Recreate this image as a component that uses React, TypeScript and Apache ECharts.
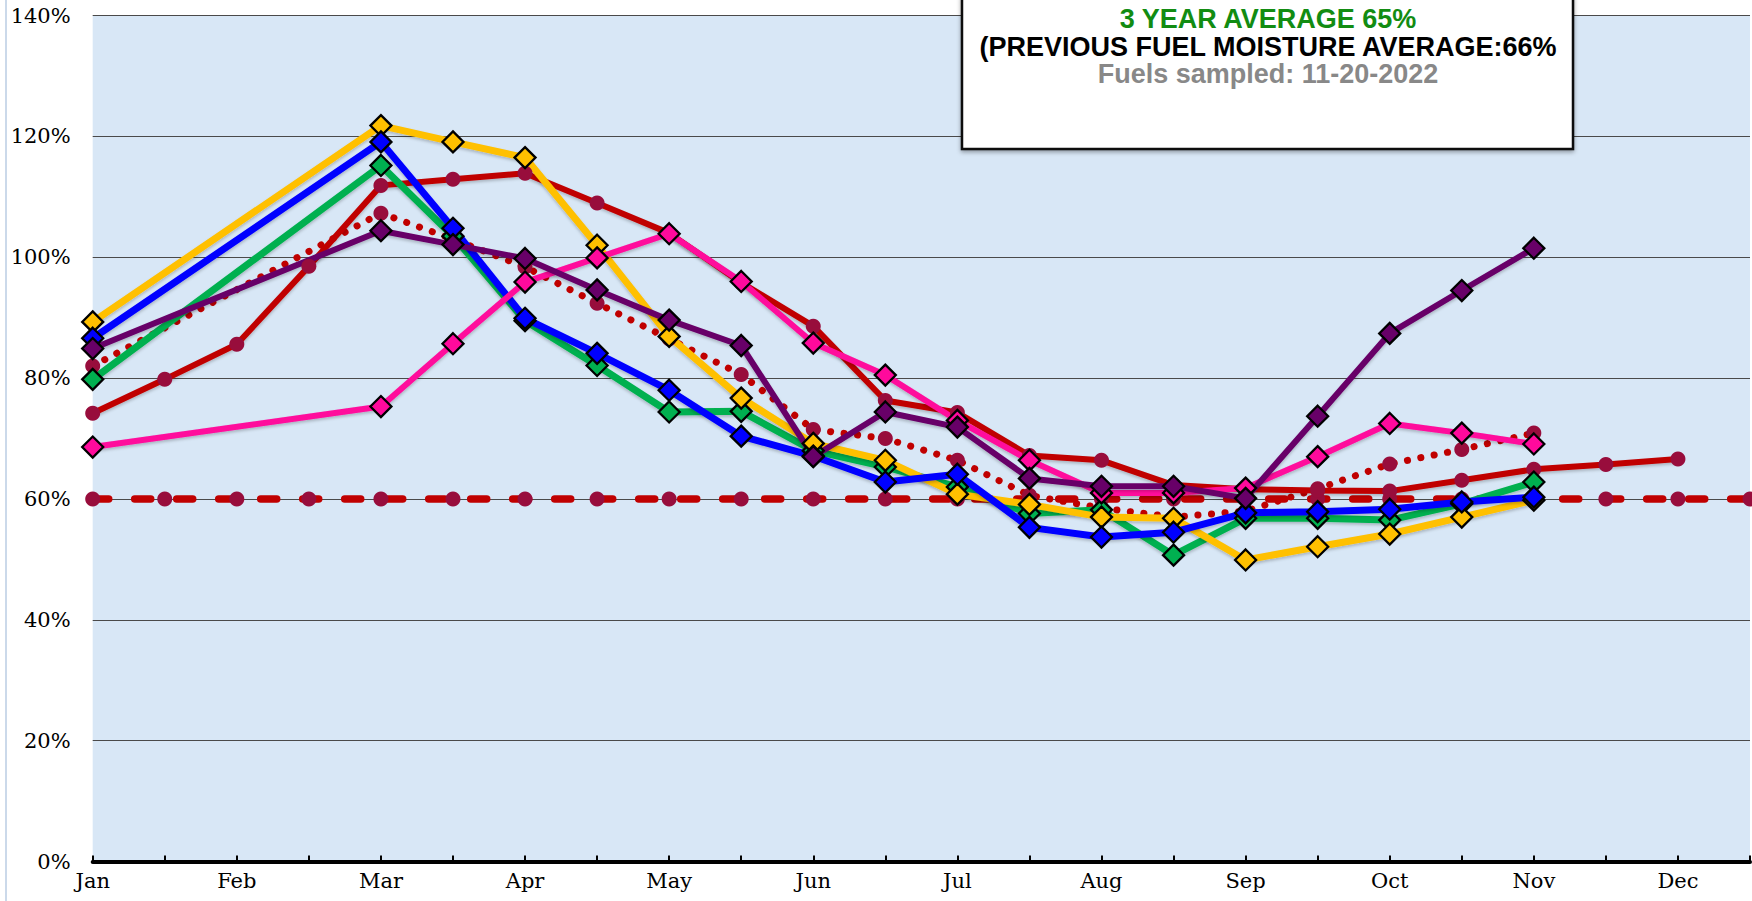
import React, { useEffect, useRef } from "react";
import * as echarts from "echarts";

const MONTHS = ["Jan", "Feb", "Mar", "Apr", "May", "Jun", "Jul", "Aug", "Sep", "Oct", "Nov", "Dec"];
// half-month slots: each month label followed by a mid-month slot
const CATEGORIES: string[] = MONTHS.flatMap((m) => [m, m + " 15"]);

const Y_TICKS = [0, 20, 40, 60, 80, 100, 120, 140];

const TITLE_LINE_1 = "3 YEAR AVERAGE 65%";
const TITLE_LINE_2 = "(PREVIOUS FUEL MOISTURE AVERAGE:66%";
const TITLE_LINE_3 = "Fuels sampled: 11-20-2022";

// 60% threshold (dashed)
const threshold = [60, 60, 60, 60, 60, 60, 60, 60, 60, 60, 60, 60, 60, 60, 60, 60, 60, 60, 60, 60, 60, 60, 60, 60];

// historical average (dotted)
const previousAvg = [82, null, null, null, 107.3, 103, 98.4, 92.4, 86.5, 80.6, 71.5, 70, 66.4, 60.6, 58.5, 57, 58, 61.7, 65.8, 68.2, 70.9];

// solid dark red with round markers
const average = [74.2, 79.8, 85.6, 98.5, 111.9, 112.9, 113.9, 109, 104, 95.8, 88.6, 76.3, 74.3, 67.2, 66.4, 62.3, 61.6, 61.4, 61.3, 63.1, 64.9, 65.7, 66.6];

const yellow = [89.3, null, null, null, 121.8, 119.1, 116.5, 102, 86.9, 76.7, 69.2, 66.4, 60.8, 59.1, 57, 56.8, 49.9, 52.1, 54.2, 57, 59.8];
const green = [79.8, null, null, null, 115.2, 103.5, 89.5, 82.1, 74.4, 74.5, 68, 65.3, 62, 57.6, 58.2, 50.7, 56.8, 56.8, 56.5, 59.2, 62.8];
const blue = [86.6, null, null, null, 119.1, 104.8, 89.9, 84.1, 78, 70.4, 67.1, 62.8, 64.1, 55.3, 53.7, 54.5, 57.7, 57.9, 58.3, 59.5, 60.3];
const pink = [68.6, null, null, null, 75.3, 85.7, 95.9, 99.9, 103.9, 96, 85.8, 80.5, 73, 66.4, 61, 61, 61.8, 67, 72.5, 70.9, 69.1];
const purple = [84.9, null, null, null, 104.4, 102.1, 99.8, 94.6, 89.6, 85.4, 67, 74.4, 71.9, 63.4, 62.1, 62.1, 60.1, 73.7, 87.4, 94.5, 101.5];

const MAROON = "#980d3c";
const DARK_RED = "#c00000";

const shadow = { shadowColor: "rgba(0,0,0,0.22)", shadowBlur: 3, shadowOffsetY: 2 };

function diamondSeries(name: string, data: (number | null)[], color: string, width: number) {
  return {
    name,
    type: "line",
    data,
    connectNulls: true,
    symbol: "diamond",
    symbolSize: 21,
    showSymbol: true,
    lineStyle: { color, width, ...shadow },
    itemStyle: { color, borderColor: "#000", borderWidth: 2.3 },
    emphasis: { disabled: true },
  };
}

export default function App() {
  const ref = useRef<HTMLDivElement>(null);

  useEffect(() => {
    if (!ref.current) return;
    const chart = echarts.init(ref.current, null, { renderer: "svg" });
    const labelFont = { fontFamily: '"DejaVu Serif", serif', fontSize: 21, color: "#000" };
    const titleFont = 'bold 27px "Liberation Sans", Arial, sans-serif';
    chart.setOption({
      animation: false,
      backgroundColor: "#ffffff",
      grid: {
        left: 92.7,
        right: 2,
        top: 15.6,
        bottom: 39.5,
        show: true,
        backgroundColor: "#d8e7f6",
        borderWidth: 0,
      },
      xAxis: {
        type: "category",
        data: CATEGORIES,
        boundaryGap: false,
        axisLine: { show: true, lineStyle: { color: "#000", width: 4 } },
        axisTick: { show: true, inside: true, length: 6, interval: 0, lineStyle: { color: "#000", width: 2 } },
        axisLabel: { ...labelFont, interval: 1, margin: 9 },
        splitLine: { show: false },
      },
      yAxis: {
        type: "value",
        min: Y_TICKS[0],
        max: Y_TICKS[Y_TICKS.length - 1],
        interval: 20,
        axisLine: { show: false },
        axisTick: { show: false },
        axisLabel: { ...labelFont, formatter: "{value}%", margin: 22 },
        splitLine: { show: true, lineStyle: { color: "#4a4a4a", width: 1 } },
      },
      series: [
        {
          name: "60%",
          type: "line",
          data: threshold,
          symbol: "circle",
          symbolSize: 15,
          lineStyle: { color: DARK_RED, width: 7.5, type: [16, 26], cap: "round" },
          itemStyle: { color: MAROON },
          emphasis: { disabled: true },
        },
        {
          name: "Previous average",
          type: "line",
          data: previousAvg,
          connectNulls: true,
          symbol: "circle",
          symbolSize: 15,
          lineStyle: { color: DARK_RED, width: 7, type: [0.1, 13.5], cap: "round" },
          itemStyle: { color: MAROON },
          emphasis: { disabled: true },
        },
        {
          name: "Average",
          type: "line",
          data: average,
          symbol: "circle",
          symbolSize: 15,
          lineStyle: { color: DARK_RED, width: 6, ...shadow },
          itemStyle: { color: MAROON },
          emphasis: { disabled: true },
        },
        diamondSeries("Green", green, "#00b050", 7),
        diamondSeries("Yellow", yellow, "#ffc000", 7),
        diamondSeries("Blue", blue, "#0000ff", 7),
        diamondSeries("Pink", pink, "#ff0a9c", 6),
        diamondSeries("Purple", purple, "#680068", 6),
      ],
      graphic: [
        {
          type: "rect",
          shape: { x: 5, y: 0, width: 2, height: 901 },
          style: { fill: "#cbd9ea" },
          z: 1,
        },
        {
          type: "rect",
          shape: { x: 962, y: -4, width: 611, height: 153 },
          style: {
            fill: "#ffffff",
            stroke: "#111",
            lineWidth: 2.5,
            shadowColor: "rgba(0,0,0,0.35)",
            shadowBlur: 4,
            shadowOffsetY: 2,
          },
          z: 100,
        },
        {
          type: "text",
          x: 1268,
          y: 19,
          z: 101,
          style: { text: TITLE_LINE_1, fill: "#128c12", font: titleFont, align: "center", verticalAlign: "middle" },
        },
        {
          type: "text",
          x: 1268,
          y: 47,
          z: 101,
          style: { text: TITLE_LINE_2, fill: "#000000", font: titleFont, align: "center", verticalAlign: "middle" },
        },
        {
          type: "text",
          x: 1268,
          y: 74,
          z: 101,
          style: { text: TITLE_LINE_3, fill: "#888888", font: titleFont, align: "center", verticalAlign: "middle" },
        },
      ],
    });
    return () => chart.dispose();
  }, []);

  return (
    <div
      ref={ref}
      style={{ position: "fixed", left: 0, top: 0, width: 1752, height: 901 }}
    />
  );
}
